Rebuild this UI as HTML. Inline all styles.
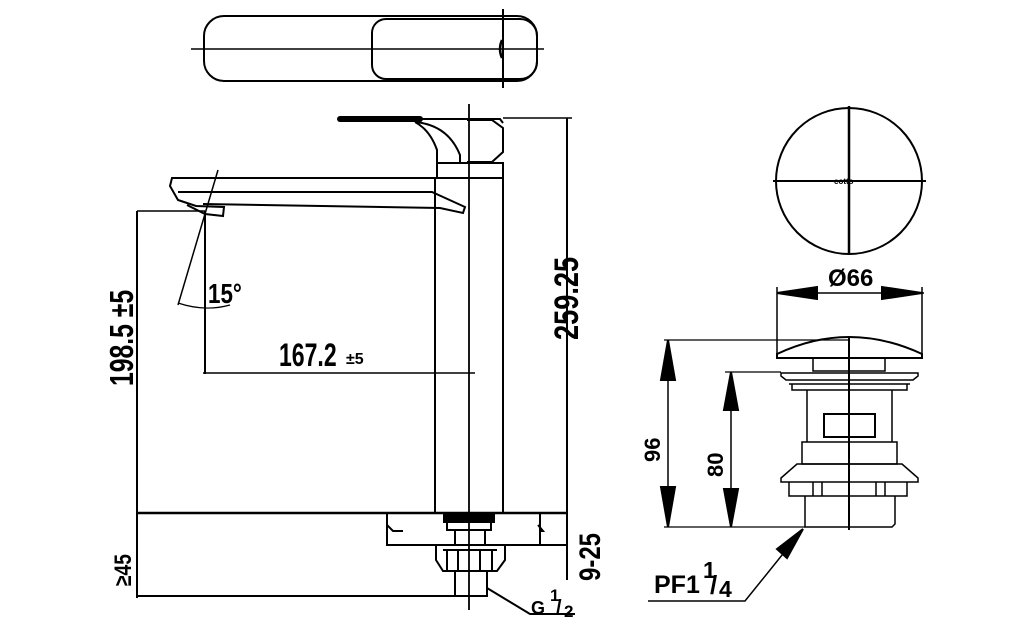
<!DOCTYPE html>
<html><head><style>body{margin:0;background:#fff}svg{display:block}text{font-family:"Liberation Sans",sans-serif;font-weight:bold;fill:#000}</style></head>
<body>
<svg width="1021" height="641" viewBox="0 0 1021 641" xmlns="http://www.w3.org/2000/svg" fill="none" stroke="#000" stroke-width="2">
<!-- top view -->
<rect x="204" y="16" width="333" height="65" rx="20"/>
<path d="M386 19 H520 a17 17 0 0 1 17 17 V62 a17 17 0 0 1 -17 17 H386 a14 14 0 0 1 -14 -14 V33 a14 14 0 0 1 14 -14z"/>
<line x1="191" y1="49" x2="544" y2="49" stroke-width="1.5"/>
<line x1="503" y1="9" x2="503" y2="88" stroke-width="2"/>
<path d="M502 40 q-4 9 0 18" stroke-width="2.5"/>
<!-- side view handle -->
<line x1="340" y1="119" x2="420" y2="119" stroke-width="6" stroke-linecap="round"/>
<path d="M420 119 H500 L503 123"/>
<path d="M415 122 Q448 125 460 155 V163 H437 V150 Q430 130 415 122"/>
<path d="M467 120 H492 L503 128 V152 L492 162 H467"/>
<path d="M437 163 H503 V178 H437z"/>
<!-- column -->
<line x1="435" y1="178" x2="435" y2="513"/>
<line x1="503" y1="162" x2="503" y2="513"/>
<line x1="469" y1="104" x2="469" y2="610" stroke-width="1.8"/>
<!-- spout -->
<path d="M437 178 H172 L170 186 L178 200 L196 206 L224 207 L223 216 L205 214 L187 205"/>
<path d="M178 192 H432 L465 207 L463 213 L440 208 L203 204"/>
<line x1="218" y1="170" x2="178" y2="305" stroke-width="1.5"/>
<path d="M178 303 Q205 312 230 305" stroke-width="1.2"/>
<!-- dims left -->
<line x1="137" y1="211" x2="205" y2="211" stroke-width="1.5"/>
<line x1="137" y1="211" x2="137" y2="598" stroke-width="2"/>
<line x1="205" y1="211" x2="205" y2="374" stroke-width="2"/>
<line x1="203" y1="373" x2="475" y2="373" stroke-width="1.5"/>
<!-- deck -->
<line x1="137" y1="513" x2="567" y2="513" stroke-width="2.5"/>
<path d="M387 513 V545 H567"/>
<path d="M387 525 l6 6 h10 M540 513 V545 M538 525 l5 6 h-4"/>
<rect x="444" y="514" width="50" height="8" fill="#000"/>
<rect x="447" y="522" width="44" height="8" stroke-width="2"/>
<path d="M455 530 V545 M485 530 V545"/>
<path d="M436 545 H505 V560 L497 571 H443 L436 560z"/>
<path d="M447 551 V571 M458 551 V571 M480 551 V571 M492 551 V571 M443 550 H497"/>
<path d="M455 571 V596 H487 V571"/>
<line x1="137" y1="596" x2="487" y2="596" stroke-width="2"/>
<path d="M487 588 L530 614 H575"/>
<!-- right dims -->
<line x1="503" y1="118" x2="572" y2="118" stroke-width="1.5"/>
<line x1="567" y1="118" x2="567" y2="580" stroke-width="2"/>
<!-- right side circle -->
<circle cx="849" cy="181" r="73"/>
<line x1="773" y1="181" x2="926" y2="181" stroke-width="2"/>
<line x1="849" y1="106" x2="849" y2="254" stroke-width="2.5"/>
<!-- drain -->
<line x1="777" y1="287" x2="777" y2="358" stroke-width="1.5"/>
<line x1="922" y1="287" x2="922" y2="358" stroke-width="1.5"/>
<line x1="777" y1="293" x2="924" y2="293" stroke-width="1.5"/>
<path d="M777 293 l40 -6 v12z M922 293 l-40 -6 v12z" fill="#000"/>
<path d="M777 358 V354 Q849 320 922 354 V358 Z"/>
<line x1="664" y1="340" x2="850" y2="340" stroke-width="1.2"/>
<rect x="813" y="358" width="72" height="13" stroke-width="1.5"/>
<path d="M781 373 H918 V376 L913 380 H786 L781 376z M786 380 H913 M789 384 H910 M792 384 V390 H907 V384" stroke-width="1.5"/>
<path d="M807 390 V442 M892 390 V442" stroke-width="1.5"/>
<rect x="824" y="414" width="51" height="23" stroke-width="2"/>
<rect x="802" y="442" width="95" height="22" stroke-width="1.5"/>
<path d="M797 464 H902 L918 478 V482 H781 V478 Z M789 482 V496 H907 V482 M813 482 V496 M822 482 V496 M876 482 V496 M885 482 V496" stroke-width="1.5"/>
<path d="M805 496 V527 H892 L895 524 V496" stroke-width="1.5"/>
<line x1="849" y1="337" x2="849" y2="530" stroke-width="2"/>
<line x1="664" y1="527" x2="805" y2="527" stroke-width="1.2"/>
<line x1="725" y1="372" x2="781" y2="372" stroke-width="1.2"/>
<line x1="668" y1="340" x2="668" y2="527" stroke-width="1.5"/>
<path d="M668 340 l-7 40 h14z M668 527 l-7 -40 h14z" fill="#000"/>
<line x1="731" y1="372" x2="731" y2="527" stroke-width="1.5"/>
<path d="M731 372 l-7 38 h14z M731 527 l-7 -38 h14z" fill="#000"/>
<path d="M803 529 L745 601 H648" stroke-width="1.5"/>
<path d="M803 529 l-26 20 l10 9z" fill="#000"/>
</svg>
<svg width="1021" height="641" style="position:absolute;left:0;top:0" xmlns="http://www.w3.org/2000/svg">
<style>text{font-family:"Liberation Sans",sans-serif;font-weight:bold;fill:#000}</style>
<text transform="translate(208,303) scale(0.8,1)" font-size="28">15°</text>
<text transform="translate(279,366) scale(0.72,1)" font-size="32">167.2</text>
<text x="346" y="364" font-size="16">±5</text>
<text transform="translate(133,386) rotate(-90) scale(0.75,1)" font-size="33">198.5 ±5</text>
<text transform="translate(578,340) rotate(-90) scale(0.8,1)" font-size="34">259.25</text>
<text transform="translate(600,581) rotate(-90) scale(0.8,1)" font-size="30">9-25</text>
<text transform="translate(131,586) rotate(-90) scale(0.8,1)" font-size="24">≥45</text>
<text x="531" y="614" font-size="18">G</text>
<text x="550" y="601" font-size="17">1</text>
<text x="556" y="614" font-size="20" font-weight="normal">/</text>
<text x="564" y="617" font-size="17">2</text>
<text x="828" y="286" font-size="24">Ø66</text>
<text transform="translate(660,462) rotate(-90)" font-size="22">96</text>
<text transform="translate(723,477) rotate(-90)" font-size="22">80</text>
<text x="654" y="593" font-size="25">PF1</text>
<text x="703" y="578" font-size="23">1</text>
<text x="710" y="594" font-size="26" font-weight="normal">/</text>
<text x="719" y="597" font-size="23">4</text>
<text x="834" y="184" font-size="8">cotto</text>
</svg>
</body></html>
